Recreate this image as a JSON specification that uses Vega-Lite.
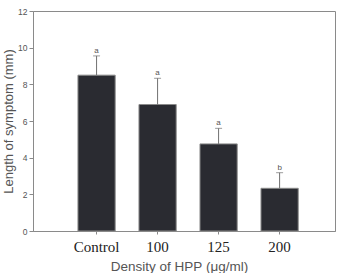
{
  "$schema": "https://vega.github.io/schema/vega-lite/v6.json",
  "width": 302,
  "height": 220,
  "autosize": {"type": "none"},
  "padding": {"left": 33, "top": 11, "right": 7, "bottom": 42},
  "background": "white",
  "config": {
    "view": {"stroke": "#8a8a8a", "strokeWidth": 1},
    "axis": {"grid": false, "domainColor": "#8a8a8a", "tickColor": "#8a8a8a"},
    "axisY": {
      "titleFont": "Liberation Sans",
      "titleFontSize": 13,
      "titleFontWeight": "normal",
      "titleColor": "#555555",
      "titlePadding": 2,
      "labelOverlap": false,
      "labelFont": "Liberation Sans",
      "labelFontSize": 8.5,
      "labelColor": "#555555",
      "tickSize": 4,
      "labelPadding": 2
    }
  },
  "data": {
    "values": [
      {"density": "Control", "length": 8.5, "upper": 9.55, "label": "a"},
      {"density": "100", "length": 6.9, "upper": 8.33, "label": "a"},
      {"density": "125", "length": 4.75, "upper": 5.6, "label": "a"},
      {"density": "200", "length": 2.33, "upper": 3.18, "label": "b"}
    ]
  },
  "encoding": {
    "x": {
      "field": "density",
      "type": "nominal",
      "sort": null,
      "scale": {"paddingInner": 0.39, "paddingOuter": 0.67, "align": 0.55},
      "axis": {
        "title": "Density of HPP (μg/ml)",
        "titleFont": "Liberation Sans",
        "titleFontSize": 13.5,
        "titleFontWeight": "normal",
        "titleColor": "#555555",
        "titlePadding": 5,
        "titleX": 146,
        "labelAngle": 0,
        "labelFont": "Liberation Serif",
        "labelFontSize": 15,
        "labelColor": "#222222",
        "labelPadding": 5,
        "labelDx": -2,
        "tickSize": 3,
        "domain": true
      }
    }
  },
  "layer": [
    {
      "mark": {"type": "bar", "color": "#2a2b31", "stroke": "#8a8a8a", "strokeWidth": 1},
      "encoding": {
        "y": {
          "field": "length",
          "type": "quantitative",
          "scale": {"domain": [0, 12], "nice": false},
          "axis": {"title": "Length of symptom (mm)", "values": [0, 2, 4, 6, 8, 10, 12]}
        }
      }
    },
    {
      "mark": {"type": "rule", "color": "#707070", "strokeWidth": 1},
      "encoding": {
        "y": {"field": "length", "type": "quantitative", "axis": {"title": "Length of symptom (mm)", "values": [0, 2, 4, 6, 8, 10, 12]}},
        "y2": {"field": "upper"}
      }
    },
    {
      "mark": {"type": "tick", "color": "#707070", "thickness": 1, "size": 7},
      "encoding": {
        "y": {"field": "upper", "type": "quantitative", "axis": {"title": "Length of symptom (mm)", "values": [0, 2, 4, 6, 8, 10, 12]}}
      }
    },
    {
      "mark": {"type": "text", "dy": -5, "font": "Liberation Sans", "fontSize": 8, "color": "#555555"},
      "encoding": {
        "y": {"field": "upper", "type": "quantitative", "axis": {"title": "Length of symptom (mm)", "values": [0, 2, 4, 6, 8, 10, 12]}},
        "text": {"field": "label"}
      }
    }
  ]
}
